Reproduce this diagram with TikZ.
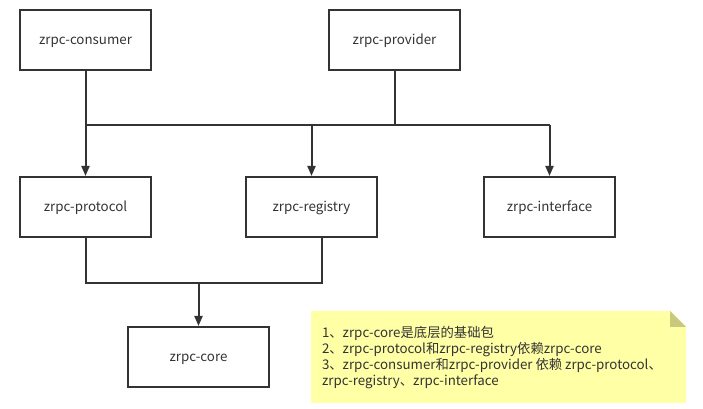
\documentclass[tikz,border=0pt]{standalone}
\usepackage{fontspec}
\setmainfont{Noto Sans CJK SC}
\usepackage{tikz}
\usetikzlibrary{arrows.meta}
\definecolor{ink}{HTML}{333333}
\definecolor{notefill}{HTML}{FFFFA6}
\definecolor{foldfill}{HTML}{C9C97C}
\newcommand\module[3]{\node[module] (#1) at (#2) {#3};}
\newcommand\link[2]{\draw[dep] (#1) -- (#2);}

\begin{document}
\begin{tikzpicture}[x=0.75pt,y=-0.75pt]
\tikzstyle{module}=[draw=ink,line width=1.5pt,fill=white,text=ink,minimum width=98.25pt,minimum height=45pt,inner sep=0pt,text height=8.5pt,text depth=1.6pt,font=\fontsize{10}{12}\selectfont]
\tikzstyle{dep}=[-{Triangle[length=7.5pt,width=6pt]}]
\tikzstyle{every path}=[draw=ink,line width=1.5pt]
\path[draw=none,use as bounding box] (0,0) rectangle (703,409);

\module{consumer}{85.5,40}{zrpc-consumer}
\module{provider}{394.5,40}{zrpc-provider}
\module{protocol}{85.5,207}{zrpc-protocol}
\module{registry}{311.5,207}{zrpc-registry}
\module{interface}{549.5,207}{zrpc-interface}
\node[module,minimum width=105.75pt] (core) at (198.5,357) {zrpc-core};

\coordinate (busL) at (85.5,125);
\coordinate (busR) at (549.5,125);
\coordinate (regout) at (321.5,237);
\coordinate (join) at (198.5,283);

%% connections

\draw (consumer) -- (busL);
\draw (provider) -- (provider |- busL);
\draw (busL) -- (busR);
\link{busL}{protocol}
\link{registry |- busL}{registry}
\link{busR}{interface}

\draw (protocol) |- (join) -| (regout);
\link{join}{core}

%% note
\fill[notefill,draw=none] (311,311) -- (670,311) -- (686,327) -- (686,403) -- (311,403) -- cycle;
\fill[foldfill,draw=none] (670,311) -- (686,327) -- (670,327) -- cycle;
\node[anchor=west,inner sep=0pt,align=left,text=ink,font=\fontsize{10}{12}\selectfont] (notetext) at (321,358)
{1、zrpc-core是底层的基础包\\
2、zrpc-protocol和zrpc-registry依赖zrpc-core\\
3、zrpc-consumer和zrpc-provider 依赖 zrpc-protocol、\\
zrpc-registry、zrpc-interface};
\end{tikzpicture}
\end{document}
